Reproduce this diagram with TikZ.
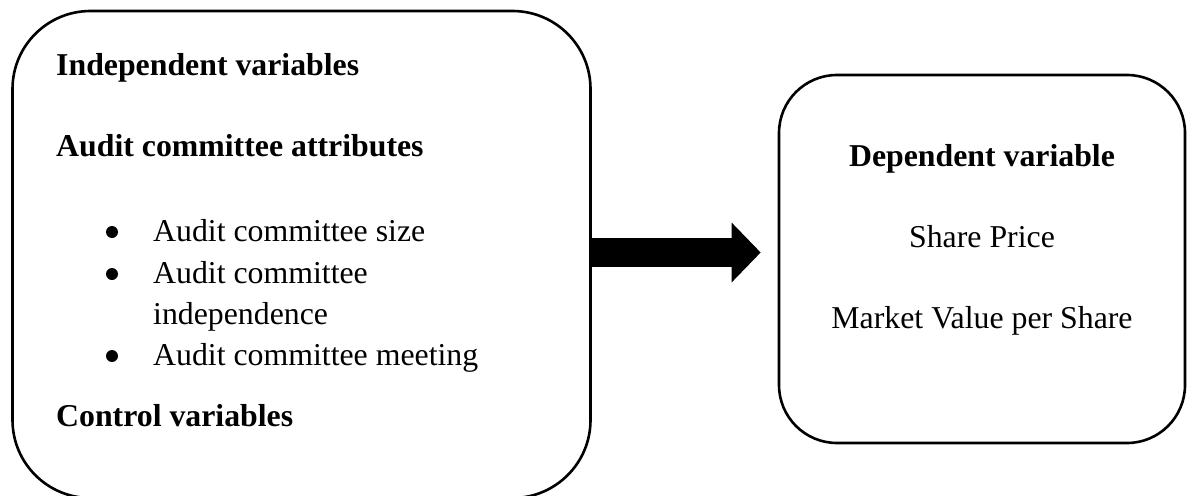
\documentclass[tikz,border=0pt]{standalone}
\usepackage{fontspec}
\setmainfont{Liberation Serif}
\usetikzlibrary{arrows.meta}
\begin{document}
\begin{tikzpicture}[x=1pt,y=-1pt,
  box/.style={draw, line width=2.6pt, inner sep=0pt},
  txt/.style={anchor=base west, inner sep=0pt, font=\fontsize{31.8}{41.3}\selectfont},
  btxt/.style={txt, font=\fontsize{31.8}{41.3}\selectfont\bfseries},
  ctxt/.style={anchor=base, inner sep=0pt, font=\fontsize{31.8}{41.3}\selectfont},
  blt/.style={circle, fill, inner sep=0pt, minimum size=12pt},
  bigarrow/.style={line width=29pt, -{Triangle[length=29pt,width=58pt]}}]
\useasboundingbox (0,0) rectangle (1188,495);
\node[box, rounded corners=78pt, minimum width=578pt, minimum height=487pt] (left) at (301.5,254.5) {};
\node[box, rounded corners=58pt, minimum width=406pt, minimum height=368pt] (right) at (982,259) {};
% left texts
\node[btxt] (t1) at (56,75.5) {Independent variables};
\node[btxt] (t2) at (56,156) {Audit committee attributes};
\node[blt] (b1) at (112,232) {};
\node[blt] (b2) at (112,274) {};
\node[blt] (b3) at (112,356) {};
\node[txt] (i1) at (153,241) {Audit committee size};
\node[txt] (i2) at (153,283) {Audit committee};
\node[txt] (i2b) at (153,324) {independence};
\node[txt] (i3) at (153,365) {Audit committee meeting};
\node[btxt] (t3) at (56,426) {Control variables};
% right texts
\node[ctxt, font=\fontsize{31.8}{41.3}\selectfont\bfseries] (d1) at (982,166) {Dependent variable};
\node[ctxt] (d2) at (982,247) {Share Price};
\node[ctxt] (d3) at (982,328) {Market Value per Share};
% arrow
\draw[bigarrow, shorten >=17pt] ([yshift=2pt]left.east) -- ([yshift=2pt]left.east -| right.west);
\end{tikzpicture}
\end{document}
